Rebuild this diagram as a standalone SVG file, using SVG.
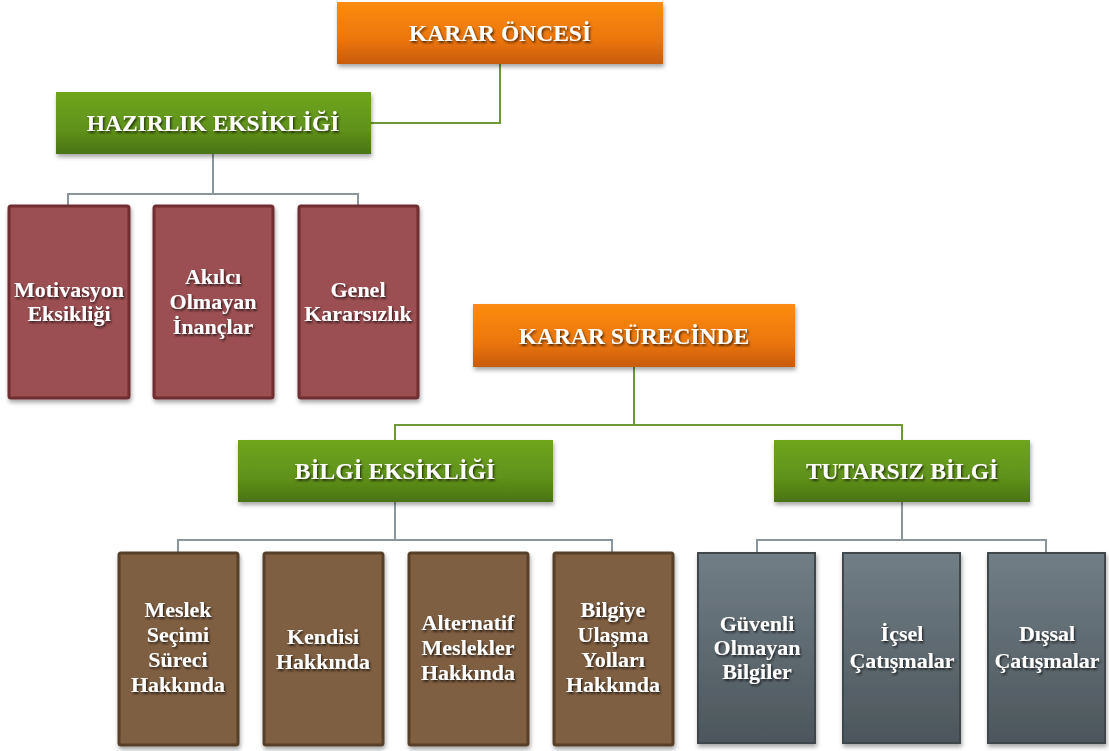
<svg xmlns="http://www.w3.org/2000/svg" width="1109" height="751" viewBox="0 0 1109 751">
<defs>
<linearGradient id="gOr" x1="0" y1="0" x2="0" y2="1"><stop offset="0" stop-color="#fb8c12"/><stop offset="0.6" stop-color="#ec760c"/><stop offset="1" stop-color="#c85b0b"/></linearGradient>
<linearGradient id="gGr" x1="0" y1="0" x2="0" y2="1"><stop offset="0" stop-color="#6fa51f"/><stop offset="0.6" stop-color="#60921a"/><stop offset="1" stop-color="#4a7314"/></linearGradient>
<linearGradient id="gGy" x1="0" y1="0" x2="0" y2="1"><stop offset="0" stop-color="#717e86"/><stop offset="1" stop-color="#4c565c"/></linearGradient>
<filter id="sh" x="-10%" y="-10%" width="130%" height="130%"><feDropShadow dx="1" dy="3" stdDeviation="2" flood-color="#000" flood-opacity="0.35"/></filter>
<filter id="ts" x="-10%" y="-30%" width="120%" height="160%"><feDropShadow dx="1.2" dy="1.8" stdDeviation="1" flood-color="#000" flood-opacity="0.7"/></filter>
</defs>
<style>
.hd{font-family:"Liberation Serif","DejaVu Serif",serif;font-weight:bold;font-size:23.5px;fill:#fff;text-anchor:middle;filter:url(#ts)}
.bx{font-family:"Liberation Serif","DejaVu Serif",serif;font-weight:bold;font-size:22px;fill:#fff;text-anchor:middle;filter:url(#ts)}
.or{fill:url(#gOr);filter:url(#sh)}
.gr{fill:url(#gGr);filter:url(#sh)}
.mr{fill:#9c4f53;stroke:#6e2f31;stroke-width:3;filter:url(#sh)}
.br{fill:#7f5f42;stroke:#574029;stroke-width:3;filter:url(#sh)}
.gy{fill:url(#gGy);stroke:#3f474c;stroke-width:2;filter:url(#sh)}
.cg{fill:none;stroke:#6e9a36;stroke-width:2}
.cs{fill:none;stroke:#8a969c;stroke-width:2}
</style>
<g id="connectors">
<path class="cg" d="M500 64 V123 H371"/>
<path class="cs" d="M213 154 V194 M68 205 V194 H358 V205"/>
<path class="cg" d="M634 367 V425 M395 440 V425 H902 V440"/>
<path class="cs" d="M395 502 V540 M178 552 V540 H612 V552"/>
<path class="cs" d="M902 502 V540 M757 552 V540 H1046 V552"/>
</g>
<g id="karar-oncesi"><rect class="or" x="337" y="2" width="326" height="62"/><text class="hd" x="500" y="41">KARAR ÖNCESİ</text></g>
<g id="hazirlik"><rect class="gr" x="56" y="92" width="315" height="62"/><text class="hd" x="213" y="131">HAZIRLIK EKSİKLİĞİ</text></g>
<g id="motivasyon"><rect class="mr" x="9" y="206" width="120" height="192" rx="2"/><text class="bx" x="69" y="297">Motivasyon</text><text class="bx" x="69" y="321">Eksikliği</text></g>
<g id="akilci"><rect class="mr" x="154" y="206" width="119" height="192" rx="2"/><text class="bx" x="213" y="284">Akılcı</text><text class="bx" x="213" y="309">Olmayan</text><text class="bx" x="213" y="334">İnançlar</text></g>
<g id="genel"><rect class="mr" x="299" y="206" width="119" height="192" rx="2"/><text class="bx" x="358" y="297">Genel</text><text class="bx" x="358" y="321">Kararsızlık</text></g>
<g id="karar-surecinde"><rect class="or" x="473" y="304" width="322" height="63"/><text class="hd" x="634" y="344">KARAR SÜRECİNDE</text></g>
<g id="bilgi-eksikligi"><rect class="gr" x="238" y="440" width="315" height="62"/><text class="hd" x="395" y="479">BİLGİ EKSİKLİĞİ</text></g>
<g id="tutarsiz"><rect class="gr" x="774" y="440" width="256" height="62"/><text class="hd" x="902" y="479">TUTARSIZ BİLGİ</text></g>
<g id="meslek"><rect class="br" x="119" y="553" width="119" height="192" rx="2"/><text class="bx" x="178" y="617">Meslek</text><text class="bx" x="178" y="642">Seçimi</text><text class="bx" x="178" y="667">Süreci</text><text class="bx" x="178" y="692">Hakkında</text></g>
<g id="kendisi"><rect class="br" x="264" y="553" width="119" height="192" rx="2"/><text class="bx" x="323" y="644">Kendisi</text><text class="bx" x="323" y="669">Hakkında</text></g>
<g id="alternatif"><rect class="br" x="409" y="553" width="119" height="192" rx="2"/><text class="bx" x="468" y="630">Alternatif</text><text class="bx" x="468" y="655">Meslekler</text><text class="bx" x="468" y="680">Hakkında</text></g>
<g id="bilgiye"><rect class="br" x="554" y="553" width="119" height="192" rx="2"/><text class="bx" x="613" y="617">Bilgiye</text><text class="bx" x="613" y="642">Ulaşma</text><text class="bx" x="613" y="667">Yolları</text><text class="bx" x="613" y="692">Hakkında</text></g>
<g id="guvenli"><rect class="gy" x="698" y="553" width="117" height="190"/><text class="bx" x="757" y="631">Güvenli</text><text class="bx" x="757" y="655">Olmayan</text><text class="bx" x="757" y="679">Bilgiler</text></g>
<g id="icsel"><rect class="gy" x="843" y="553" width="117" height="190"/><text class="bx" x="902" y="641">İçsel</text><text class="bx" x="902" y="668">Çatışmalar</text></g>
<g id="dissal"><rect class="gy" x="988" y="553" width="117" height="190"/><text class="bx" x="1047" y="641">Dışsal</text><text class="bx" x="1047" y="668">Çatışmalar</text></g>
</svg>
